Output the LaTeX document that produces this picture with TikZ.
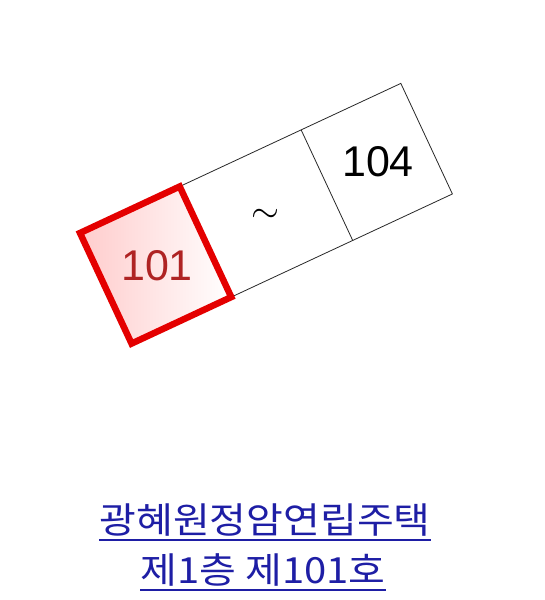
\documentclass[tikz,border=0pt]{standalone}
\usepackage{fontspec}
\usepackage{graphicx}
\setmainfont{Liberation Sans}
\newfontfamily\krfont{Noto Sans CJK KR}
\definecolor{boxred}{RGB}{228,0,0}
\definecolor{numred}{RGB}{175,35,35}
\definecolor{krblue}{RGB}{30,30,165}
\definecolor{linegray}{RGB}{40,40,40}
\begin{document}
\begin{tikzpicture}[x=1pt,y=-1pt,
  cell/.style={draw=linegray, line width=0.8pt},
  redcell/.style={draw=boxred, line width=6.5pt, line join=miter, left color=red!20, right color=white},
  num/.style={font=\fontsize{43}{43}\selectfont, inner sep=0pt},
  title/.style={font=\krfont\fontsize{40}{40}\selectfont, text=krblue, inner sep=0pt, anchor=base, yscale=0.9, transform shape},
  uline/.style={draw=krblue, line width=2pt}]
\useasboundingbox (0,0) rectangle (545,600);
\fill[white] (0,0) rectangle (545,600);
\begin{scope}[shift={(80,233)}, rotate=25]
  \draw[cell] (0,0) rectangle (354,122);
  \draw[cell] (244,0) -- (244,122);
  \draw[redcell] (0,0) rectangle (110,122);
\end{scope}
\node[num, text=numred] (n101) at (157,266) {101};
\node[num] (n104) at (378,162) {104};
\node[inner sep=0pt, anchor=base] (tilde) at (265,222) {\scalebox{3.6}{$\sim$}};
\node[title] (t1) at (265,533) {광혜원정암연립주택};
\node[title] (t2) at (263,583.5) {제1층 제101호};
\draw[uline] ([yshift=-6.5pt]t1.base west) -- ([yshift=-6.5pt]t1.base east);
\draw[uline] ([yshift=-6.5pt]t2.base west) -- ([yshift=-6.5pt]t2.base east);
\end{tikzpicture}
\end{document}
